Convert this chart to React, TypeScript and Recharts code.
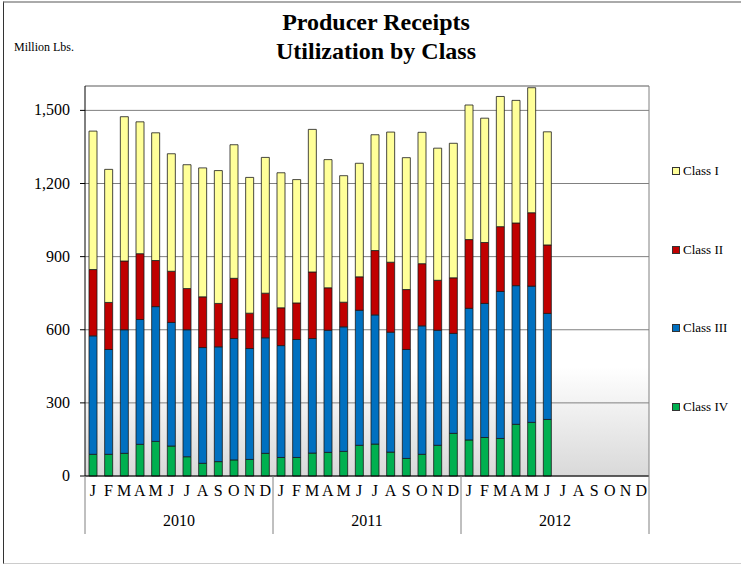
import React from 'react';
import { BarChart, Bar, XAxis, YAxis, CartesianGrid, ReferenceLine } from 'recharts';

const serif = '"Liberation Serif", "Times New Roman", serif';

// Month / year labels
const months = ['J', 'F', 'M', 'A', 'M', 'J', 'J', 'A', 'S', 'O', 'N', 'D'];
const years = ['2010', '2011', '2012'];
const yTicks = [0, 300, 600, 900, 1200, 1500];

// Million lbs per month, Jan 2010 - Jun 2012
const classIV = [89, 89, 93, 130, 142, 123, 79, 52, 59, 66, 68, 93, 76, 76, 94, 97, 101, 126, 131, 98, 72, 89, 126, 175, 148, 158, 154, 212, 220, 232];
const classIII = [486, 430, 507, 512, 553, 507, 521, 475, 471, 498, 455, 474, 459, 484, 470, 501, 511, 554, 530, 492, 447, 527, 472, 410, 540, 550, 603, 569, 559, 435];
const classII = [272, 193, 282, 270, 189, 210, 169, 208, 178, 247, 145, 183, 155, 150, 273, 174, 101, 137, 264, 287, 246, 255, 205, 228, 282, 250, 266, 257, 301, 281];
const classI = [568, 546, 592, 541, 524, 482, 508, 529, 545, 548, 557, 557, 554, 506, 585, 526, 519, 466, 475, 534, 541, 539, 542, 552, 552, 510, 534, 503, 513, 464];

const colors = {
  classI: '#FFFF99',
  classII: '#C00000',
  classIII: '#0070C0',
  classIV: '#00B050',
};

const data = years.flatMap((yr, yi) =>
  months.map((m, mi) => {
    const i = yi * 12 + mi;
    return {
      key: `${yr}-${mi}`,
      month: m,
      year: yr,
      classIV: classIV[i] ?? null,
      classIII: classIII[i] ?? null,
      classII: classII[i] ?? null,
      classI: classI[i] ?? null,
    };
  })
);

const PLOT_LEFT = 85;
const PLOT_RIGHT = 649;
const BAND = (PLOT_RIGHT - PLOT_LEFT) / data.length;

const textStyle = { fontFamily: serif, fontSize: 16, fill: '#000' };

const MonthTick = (props: any) => {
  const { x, y, payload } = props;
  const idx = payload.index;
  return (
    <text x={x} y={y} dy={20} textAnchor="middle" style={textStyle}>
      {data[idx] ? data[idx].month : ''}
    </text>
  );
};

const YearTick = (props: any) => {
  const { x, y, payload } = props;
  const idx = payload.index;
  const top = y - 30;
  const bottom = y + 28;
  return (
    <g>
      {idx % 12 === 0 && (
        <line x1={x - BAND / 2} x2={x - BAND / 2} y1={top} y2={bottom} stroke="#808080" />
      )}
      {idx === data.length - 1 && (
        <line x1={x + BAND / 2} x2={x + BAND / 2} y1={top} y2={bottom} stroke="#808080" />
      )}
      {idx % 12 === 6 && (
        <text x={x - BAND / 2} y={y} dy={20} textAnchor="middle" style={textStyle}>
          {data[idx].year}
        </text>
      )}
    </g>
  );
};

const ValueTick = (props: any) => {
  const { x, y, payload } = props;
  return (
    <text x={x} y={y} dy={5} textAnchor="end" style={textStyle}>
      {Number(payload.value).toLocaleString('en-US')}
    </text>
  );
};

const legendItems = [
  { name: 'Class I', color: colors.classI, top: 171 },
  { name: 'Class II', color: colors.classII, top: 250 },
  { name: 'Class III', color: colors.classIII, top: 328 },
  { name: 'Class IV', color: colors.classIV, top: 407 },
];

const App = () => {
  return (
    <div style={{ position: 'absolute', left: 0, top: 0, width: 741, height: 565, overflow: 'hidden', background: '#fff', fontFamily: serif }}>
      {/* outer frame */}
      <div
        style={{
          position: 'absolute',
          left: 3,
          top: 1,
          width: 760,
          height: 560,
          borderLeft: '1px solid #333',
          borderTop: '2px solid #aaa',
          borderBottom: '1px solid #ccc',
        }}
      />
      <div style={{ position: 'absolute', left: 176, width: 400, top: 8, textAlign: 'center', fontWeight: 'bold', fontSize: 24, lineHeight: '29px', color: '#000' }}>
        Producer Receipts
        <br />
        Utilization by Class
      </div>
      <div style={{ position: 'absolute', left: 14, top: 40, fontSize: 12, color: '#000' }}>Million Lbs.</div>

      <div style={{ position: 'absolute', left: 0, top: 0 }}>
        <BarChart
          width={741}
          height={565}
          data={data}
          barSize={8}
          margin={{ top: 86, right: 91, left: 0, bottom: 19 }}
        >
          <defs>
            <linearGradient id="plotBg" x1="0" y1="0" x2="0" y2="1">
              <stop offset="0%" stopColor="#ffffff" />
              <stop offset="72%" stopColor="#ffffff" />
              <stop offset="100%" stopColor="#d9d9d9" />
            </linearGradient>
          </defs>
          <CartesianGrid vertical={false} stroke="#808080" fill="url(#plotBg)" />
          <XAxis
            dataKey="key"
            interval={0}
            axisLine={{ stroke: '#000' }}
            tickLine={false}
            tickSize={0}
            tickMargin={0}
            height={30}
            tick={<MonthTick />}
          />
          <XAxis
            dataKey="key"
            xAxisId="year"
            interval={0}
            axisLine={false}
            tickLine={false}
            tickSize={0}
            tickMargin={0}
            height={40}
            tick={<YearTick />}
          />
          <YAxis
            domain={[0, 1600]}
            ticks={yTicks}
            width={85}
            tickSize={5}
            tickMargin={10}
            axisLine={{ stroke: '#000' }}
            tickLine={{ stroke: '#000' }}
            tick={<ValueTick />}
          />
          <YAxis yAxisId="r" orientation="right" width={1} domain={[0, 1600]} tick={false} tickLine={false} axisLine={{ stroke: '#808080' }} />
          <ReferenceLine y={1600} stroke="#a6a6a6" strokeWidth={1.5} />
          <Bar dataKey="classIV" name="Class IV" stackId="a" fill={colors.classIV} stroke="#1a1a1a" strokeWidth={0.8} isAnimationActive={false} />
          <Bar dataKey="classIII" name="Class III" stackId="a" fill={colors.classIII} stroke="#1a1a1a" strokeWidth={0.8} isAnimationActive={false} />
          <Bar dataKey="classII" name="Class II" stackId="a" fill={colors.classII} stroke="#1a1a1a" strokeWidth={0.8} isAnimationActive={false} />
          <Bar dataKey="classI" name="Class I" stackId="a" fill={colors.classI} stroke="#1a1a1a" strokeWidth={0.8} isAnimationActive={false} />
        </BarChart>
      </div>

      {/* legend */}
      {legendItems.map((item) => (
        <div key={item.name} style={{ position: 'absolute', left: 672, top: item.top - 8, height: 16, display: 'flex', alignItems: 'center', fontSize: 13, color: '#000' }}>
          <span style={{ display: 'inline-block', width: 6, height: 6, background: item.color, border: '1px solid #333', marginRight: 3 }} />
          {item.name}
        </div>
      ))}
    </div>
  );
};

export default App;
